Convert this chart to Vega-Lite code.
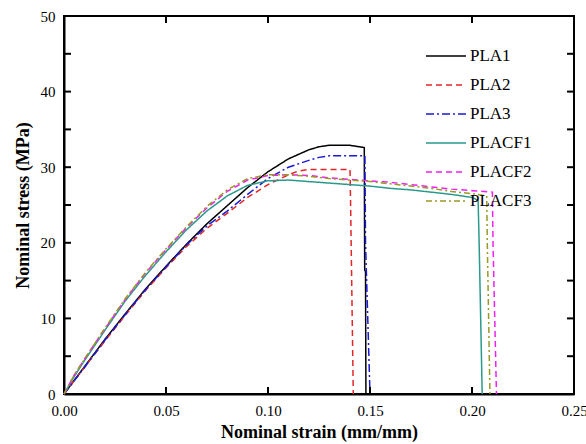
{
  "$schema": "https://vega.github.io/schema/vega-lite/v6.json",
  "width": 510,
  "height": 378,
  "autosize": {"type": "none"},
  "padding": {"left": 64, "top": 16, "right": 12, "bottom": 50},
  "config": {
    "font": "Liberation Serif",
    "view": {"stroke": "black", "strokeWidth": 2},
    "axis": {"labelFont": "Liberation Serif", "labelFontSize": 15, "labelColor": "black", "titleFont": "Liberation Serif", "titleFontSize": 18, "titleFontWeight": "bold", "titleColor": "black", "domainColor": "black", "domainWidth": 2, "grid": false}
  },
  "data": {"values": [
    {"s":"PLA1","x":0,"y":0},{"s":"PLA1","x":0.01,"y":3.6},{"s":"PLA1","x":0.02,"y":7.2},{"s":"PLA1","x":0.03,"y":10.6},{"s":"PLA1","x":0.04,"y":13.9},{"s":"PLA1","x":0.05,"y":16.9},{"s":"PLA1","x":0.06,"y":19.8},{"s":"PLA1","x":0.07,"y":22.5},{"s":"PLA1","x":0.08,"y":24.9},{"s":"PLA1","x":0.09,"y":27.3},{"s":"PLA1","x":0.1,"y":29.4},{"s":"PLA1","x":0.11,"y":31.1},{"s":"PLA1","x":0.12,"y":32.3},{"s":"PLA1","x":0.125,"y":32.7},{"s":"PLA1","x":0.13,"y":32.9},{"s":"PLA1","x":0.14,"y":32.9},{"s":"PLA1","x":0.1472,"y":32.6},{"s":"PLA1","x":0.1474,"y":16.4},{"s":"PLA1","x":0.1478,"y":16.2},{"s":"PLA1","x":0.148,"y":0},
    {"s":"PLA2","x":0,"y":0},{"s":"PLA2","x":0.01,"y":3.5},{"s":"PLA2","x":0.02,"y":7.0},{"s":"PLA2","x":0.03,"y":10.4},{"s":"PLA2","x":0.04,"y":13.7},{"s":"PLA2","x":0.05,"y":16.7},{"s":"PLA2","x":0.06,"y":19.5},{"s":"PLA2","x":0.07,"y":21.9},{"s":"PLA2","x":0.08,"y":23.9},{"s":"PLA2","x":0.09,"y":26.0},{"s":"PLA2","x":0.1,"y":27.7},{"s":"PLA2","x":0.11,"y":29.0},{"s":"PLA2","x":0.115,"y":29.5},{"s":"PLA2","x":0.12,"y":29.7},{"s":"PLA2","x":0.1402,"y":29.7},{"s":"PLA2","x":0.1405,"y":25},{"s":"PLA2","x":0.1418,"y":0},
    {"s":"PLA3","x":0,"y":0},{"s":"PLA3","x":0.01,"y":3.5},{"s":"PLA3","x":0.02,"y":7.1},{"s":"PLA3","x":0.03,"y":10.5},{"s":"PLA3","x":0.04,"y":13.8},{"s":"PLA3","x":0.05,"y":16.8},{"s":"PLA3","x":0.06,"y":19.7},{"s":"PLA3","x":0.07,"y":22.2},{"s":"PLA3","x":0.08,"y":24.2},{"s":"PLA3","x":0.09,"y":26.4},{"s":"PLA3","x":0.1,"y":28.5},{"s":"PLA3","x":0.11,"y":30.0},{"s":"PLA3","x":0.12,"y":30.9},{"s":"PLA3","x":0.125,"y":31.3},{"s":"PLA3","x":0.13,"y":31.5},{"s":"PLA3","x":0.1475,"y":31.5},{"s":"PLA3","x":0.1478,"y":20},{"s":"PLA3","x":0.15,"y":0},
    {"s":"PLACF1","x":0,"y":0},{"s":"PLACF1","x":0.005,"y":2.3},{"s":"PLACF1","x":0.01,"y":4.4},{"s":"PLACF1","x":0.02,"y":8.4},{"s":"PLACF1","x":0.03,"y":12.3},{"s":"PLACF1","x":0.04,"y":15.7},{"s":"PLACF1","x":0.05,"y":18.8},{"s":"PLACF1","x":0.06,"y":21.7},{"s":"PLACF1","x":0.07,"y":24.2},{"s":"PLACF1","x":0.08,"y":26.2},{"s":"PLACF1","x":0.09,"y":27.6},{"s":"PLACF1","x":0.1,"y":28.2},{"s":"PLACF1","x":0.11,"y":28.3},{"s":"PLACF1","x":0.12,"y":28.1},{"s":"PLACF1","x":0.13,"y":27.9},{"s":"PLACF1","x":0.14,"y":27.7},{"s":"PLACF1","x":0.15,"y":27.5},{"s":"PLACF1","x":0.16,"y":27.2},{"s":"PLACF1","x":0.17,"y":27.0},{"s":"PLACF1","x":0.18,"y":26.7},{"s":"PLACF1","x":0.19,"y":26.4},{"s":"PLACF1","x":0.2,"y":26.0},{"s":"PLACF1","x":0.203,"y":25.6},{"s":"PLACF1","x":0.2035,"y":20},{"s":"PLACF1","x":0.205,"y":0},
    {"s":"PLACF2","x":0,"y":0},{"s":"PLACF2","x":0.005,"y":2.5},{"s":"PLACF2","x":0.01,"y":4.6},{"s":"PLACF2","x":0.02,"y":8.6},{"s":"PLACF2","x":0.03,"y":12.5},{"s":"PLACF2","x":0.04,"y":16.0},{"s":"PLACF2","x":0.05,"y":19.1},{"s":"PLACF2","x":0.06,"y":22.0},{"s":"PLACF2","x":0.07,"y":24.6},{"s":"PLACF2","x":0.08,"y":26.8},{"s":"PLACF2","x":0.09,"y":28.3},{"s":"PLACF2","x":0.1,"y":28.9},{"s":"PLACF2","x":0.11,"y":29.0},{"s":"PLACF2","x":0.12,"y":28.9},{"s":"PLACF2","x":0.13,"y":28.6},{"s":"PLACF2","x":0.14,"y":28.4},{"s":"PLACF2","x":0.15,"y":28.2},{"s":"PLACF2","x":0.16,"y":28.0},{"s":"PLACF2","x":0.17,"y":27.7},{"s":"PLACF2","x":0.18,"y":27.4},{"s":"PLACF2","x":0.19,"y":27.1},{"s":"PLACF2","x":0.2,"y":26.9},{"s":"PLACF2","x":0.21,"y":26.7},{"s":"PLACF2","x":0.2103,"y":20},{"s":"PLACF2","x":0.212,"y":0},
    {"s":"PLACF3","x":0,"y":0},{"s":"PLACF3","x":0.005,"y":2.5},{"s":"PLACF3","x":0.01,"y":4.6},{"s":"PLACF3","x":0.02,"y":8.7},{"s":"PLACF3","x":0.03,"y":12.6},{"s":"PLACF3","x":0.04,"y":16.1},{"s":"PLACF3","x":0.05,"y":19.2},{"s":"PLACF3","x":0.06,"y":22.1},{"s":"PLACF3","x":0.07,"y":24.8},{"s":"PLACF3","x":0.08,"y":27.0},{"s":"PLACF3","x":0.09,"y":28.5},{"s":"PLACF3","x":0.1,"y":29.0},{"s":"PLACF3","x":0.11,"y":29.0},{"s":"PLACF3","x":0.12,"y":28.8},{"s":"PLACF3","x":0.13,"y":28.5},{"s":"PLACF3","x":0.14,"y":28.3},{"s":"PLACF3","x":0.15,"y":28.1},{"s":"PLACF3","x":0.16,"y":27.8},{"s":"PLACF3","x":0.17,"y":27.5},{"s":"PLACF3","x":0.18,"y":27.2},{"s":"PLACF3","x":0.19,"y":26.8},{"s":"PLACF3","x":0.2,"y":26.5},{"s":"PLACF3","x":0.2072,"y":26.2},{"s":"PLACF3","x":0.2075,"y":20},{"s":"PLACF3","x":0.2088,"y":0}
  ]},
  "resolve": {"axis": {"x": "independent", "y": "independent"}},
  "layer": [
    {
      "mark": {"type": "line", "strokeWidth": 1.5},
      "encoding": {
        "x": {"field": "x", "type": "quantitative", "scale": {"domain": [0, 0.25], "nice": false, "zero": false},
          "axis": {"title": "Nominal strain (mm/mm)", "values": [0, 0.05, 0.1, 0.15, 0.2, 0.25], "format": ".2f", "ticks": false, "labelPadding": 9, "titlePadding": 5, "labelFlush": false}},
        "y": {"field": "y", "type": "quantitative", "scale": {"domain": [0, 50], "nice": false},
          "axis": {"title": "Nominal stress (MPa)", "values": [0, 10, 20, 30, 40, 50], "ticks": false, "labelPadding": 9, "titlePadding": 8, "labelFlush": false}},
        "color": {"field": "s", "type": "nominal",
          "scale": {"domain": ["PLA1", "PLA2", "PLA3", "PLACF1", "PLACF2", "PLACF3"], "range": ["#000000", "#e02828", "#1a1ad0", "#2a9a8c", "#f020f0", "#999926"]},
          "legend": {"title": null, "orient": "none", "legendX": 361, "legendY": 19, "symbolType": "stroke", "symbolSize": 1600, "symbolStrokeWidth": 1.5, "labelFont": "Liberation Serif", "labelFontSize": 17, "labelColor": "black", "rowPadding": -18, "labelOffset": 3}},
        "strokeDash": {"field": "s", "type": "nominal",
          "scale": {"domain": ["PLA1", "PLA2", "PLA3", "PLACF1", "PLACF2", "PLACF3"], "range": [[1, 0], [6, 4], [8, 3, 2, 3], [1, 0], [6, 4], [6, 3, 2, 3]]},
          "legend": null}
      }
    },
    {
      "data": {"values": [{"t": 0.05}, {"t": 0.1}, {"t": 0.15}, {"t": 0.2}]},
      "mark": {"type": "tick", "orient": "vertical", "size": 7, "thickness": 2, "color": "black", "opacity": 1},
      "encoding": {
        "x": {"field": "t", "type": "quantitative", "axis": null},
        "y": {"datum": 0.45, "type": "quantitative", "axis": null}
      }
    },
    {
      "data": {"values": [{"t": 0.05}, {"t": 0.1}, {"t": 0.15}, {"t": 0.2}]},
      "mark": {"type": "tick", "orient": "vertical", "size": 7, "thickness": 2, "color": "black", "opacity": 1},
      "encoding": {
        "x": {"field": "t", "type": "quantitative", "axis": null},
        "y": {"datum": 49.55, "type": "quantitative", "axis": null}
      }
    },
    {
      "data": {"values": [{"v": 5}, {"v": 10}, {"v": 15}, {"v": 20}, {"v": 25}, {"v": 30}, {"v": 35}, {"v": 40}, {"v": 45}]},
      "mark": {"type": "tick", "orient": "horizontal", "size": 7, "thickness": 2, "color": "black", "opacity": 1},
      "encoding": {
        "y": {"field": "v", "type": "quantitative", "axis": null},
        "x": {"datum": 0.0017, "type": "quantitative", "axis": null}
      }
    },
    {
      "data": {"values": [{"v": 5}, {"v": 10}, {"v": 15}, {"v": 20}, {"v": 25}, {"v": 30}, {"v": 35}, {"v": 40}, {"v": 45}]},
      "mark": {"type": "tick", "orient": "horizontal", "size": 7, "thickness": 2, "color": "black", "opacity": 1},
      "encoding": {
        "y": {"field": "v", "type": "quantitative", "axis": null},
        "x": {"datum": 0.2483, "type": "quantitative", "axis": null}
      }
    }
  ]
}
